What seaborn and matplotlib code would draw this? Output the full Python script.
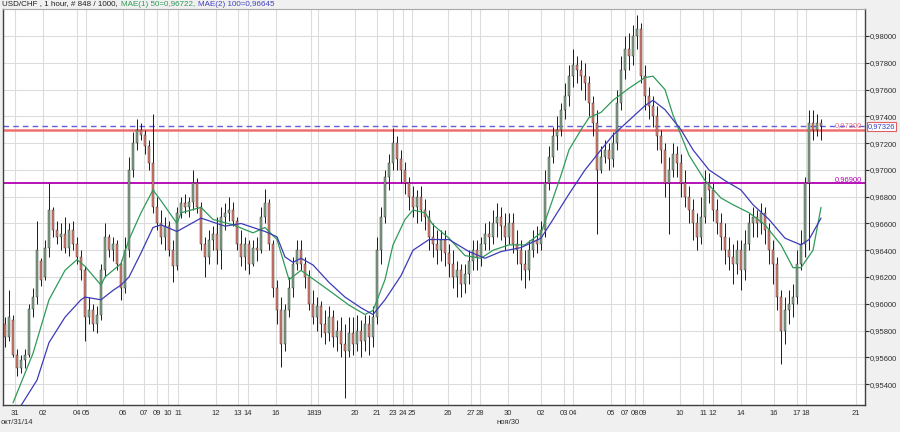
import numpy as np
import pandas as pd
import matplotlib
matplotlib.use("Agg")
import matplotlib.pyplot as plt
import matplotlib.transforms as mtransforms
from matplotlib.ticker import FuncFormatter
import seaborn as sns

# USD/CHF candles, one candle per 4 px of the original chart, prices in pips (1/10000)
opens = [
    9585, 9575, 9588, 9562, 9552, 9558, 9562, 9596, 9605, 9632,
    9620, 9642, 9670, 9655, 9650, 9652, 9642, 9655, 9645, 9635,
    9625, 9590, 9595, 9585, 9592, 9625, 9650, 9640, 9645, 9630,
    9612, 9640, 9700, 9720, 9730, 9726, 9718, 9705, 9672, 9660,
    9650, 9658, 9640, 9628, 9668, 9675, 9672, 9676, 9690, 9672,
    9645, 9635, 9648, 9652, 9640, 9665, 9668, 9670, 9662, 9645,
    9635, 9645, 9630, 9642, 9640, 9665, 9675, 9645, 9612, 9595,
    9570, 9595, 9612, 9630,
    9640, 9630, 9620, 9600, 9590, 9598, 9585, 9578, 9590, 9575,
    9580, 9570, 9565, 9578, 9570, 9580, 9572, 9585, 9575, 9590,
    9640, 9665, 9695, 9705, 9720, 9708, 9700, 9690, 9680, 9672,
    9680, 9670, 9665, 9650, 9645, 9640, 9648, 9638, 9630, 9620,
    9625, 9615, 9622, 9632, 9640, 9635, 9645, 9652, 9650, 9660,
    9665, 9658, 9650, 9660, 9645, 9640, 9630, 9625, 9640, 9648,
    9645, 9655, 9690, 9710, 9725, 9730, 9745, 9755, 9770, 9778,
    9775, 9770, 9765, 9750, 9735, 9700, 9710, 9715, 9708, 9720,
    9750, 9775, 9790, 9785, 9800, 9805, 9770, 9755, 9748, 9740,
    9725, 9715, 9690, 9700, 9712, 9705, 9690, 9680, 9670, 9660,
    9650, 9665, 9690, 9685, 9670, 9660, 9650, 9640, 9635, 9630,
    9640, 9625, 9645, 9660, 9665, 9660, 9668, 9655, 9640, 9630,
    9605, 9580, 9595, 9600, 9605, 9630, 9645, 9690, 9735, 9730,
    9735,
]
highs = [
    9590, 9610, 9592, 9566, 9562, 9566, 9600, 9612, 9662, 9634,
    9648, 9690, 9672, 9662, 9660, 9665, 9660, 9662, 9650, 9640,
    9628, 9605, 9600, 9598, 9630, 9660, 9652, 9650, 9648, 9633,
    9650, 9710, 9728, 9738, 9735, 9730, 9722, 9742, 9680, 9670,
    9665, 9662, 9648, 9672, 9680, 9682, 9680, 9700, 9694, 9676,
    9650, 9655, 9658, 9665, 9672, 9675, 9680, 9676, 9665, 9655,
    9650, 9648, 9648, 9650, 9672, 9686, 9678, 9648, 9618, 9605,
    9600, 9620, 9635, 9648,
    9648, 9635, 9625, 9610, 9605, 9602, 9595, 9598, 9595, 9588,
    9590, 9585, 9590, 9590, 9592, 9588, 9592, 9592, 9598, 9650,
    9672, 9700, 9712, 9731, 9725, 9715, 9706, 9695, 9688, 9685,
    9688, 9678, 9670, 9660, 9655, 9655, 9655, 9645, 9640, 9632,
    9630, 9630, 9640, 9648, 9648, 9650, 9660, 9662, 9670, 9675,
    9672, 9668, 9668, 9668, 9655, 9648, 9640, 9648, 9655, 9658,
    9662, 9700, 9718, 9732, 9740, 9750, 9765, 9778, 9790, 9785,
    9782, 9780, 9770, 9755, 9745, 9718, 9722, 9720, 9728, 9760,
    9785, 9800, 9802, 9808, 9816, 9810, 9778, 9762, 9755, 9748,
    9730, 9720, 9710, 9720, 9718, 9712, 9700, 9688, 9678, 9668,
    9680, 9700, 9698, 9690, 9678, 9668, 9660, 9650, 9645, 9648,
    9648, 9655, 9668, 9672, 9670, 9675, 9672, 9660, 9648, 9635,
    9610, 9605, 9610, 9615, 9640, 9655, 9695, 9745, 9745, 9742,
    9738,
]
lows = [
    9568, 9572, 9560, 9546, 9548, 9552, 9560, 9590, 9600, 9613,
    9618, 9635, 9650, 9645, 9640, 9638, 9636, 9640, 9630, 9618,
    9572, 9585, 9580, 9578, 9588, 9620, 9635, 9632, 9625, 9603,
    9608, 9635, 9695, 9715, 9722, 9712, 9700, 9668, 9655, 9645,
    9640, 9636, 9616, 9625, 9664, 9668, 9665, 9670, 9668, 9640,
    9620, 9630, 9640, 9630, 9626, 9655, 9662, 9658, 9640, 9628,
    9625, 9622, 9628, 9632, 9638, 9660, 9640, 9605, 9585, 9553,
    9565, 9590, 9605, 9625,
    9625, 9612, 9595, 9585, 9580, 9575, 9570, 9572, 9568, 9565,
    9560, 9530, 9560, 9562, 9565, 9560, 9565, 9562, 9568, 9585,
    9630, 9660, 9685, 9700, 9700, 9690, 9682, 9670, 9665, 9660,
    9662, 9655, 9640, 9635, 9630, 9632, 9628, 9620, 9612, 9605,
    9605, 9608, 9615, 9625, 9625, 9628, 9640, 9640, 9645, 9650,
    9648, 9640, 9645, 9638, 9630, 9618, 9612, 9618, 9635, 9638,
    9640, 9650, 9685, 9705, 9715, 9725, 9738, 9748, 9762, 9765,
    9760, 9752, 9740, 9725, 9652, 9698, 9705, 9700, 9702, 9715,
    9745, 9768, 9775, 9778, 9790, 9765, 9745, 9738, 9732, 9715,
    9705, 9680, 9652, 9695, 9695, 9680, 9672, 9660, 9648, 9640,
    9645, 9660, 9675, 9662, 9652, 9640, 9630, 9625, 9615, 9622,
    9610, 9618, 9640, 9650, 9650, 9652, 9645, 9630, 9615, 9595,
    9555, 9570, 9585, 9590, 9600, 9625, 9635, 9640, 9722, 9725,
    9722,
]
closes = [
    9575, 9590, 9562, 9552, 9558, 9562, 9596, 9605, 9640, 9618,
    9642, 9670, 9655, 9650, 9652, 9642, 9655, 9645, 9635, 9625,
    9590, 9595, 9585, 9592, 9625, 9650, 9640, 9645, 9630, 9612,
    9640, 9700, 9720, 9730, 9726, 9718, 9705, 9672, 9660, 9650,
    9658, 9640, 9628, 9668, 9675, 9672, 9676, 9690, 9672, 9645,
    9635, 9648, 9652, 9640, 9665, 9668, 9670, 9662, 9645, 9635,
    9645, 9630, 9642, 9640, 9665, 9675, 9645, 9612, 9595, 9570,
    9595, 9612, 9630, 9640,
    9630, 9620, 9600, 9590, 9598, 9585, 9578, 9590, 9575, 9580,
    9570, 9565, 9578, 9570, 9580, 9572, 9585, 9575, 9590, 9640,
    9665, 9695, 9705, 9720, 9708, 9700, 9690, 9680, 9672, 9680,
    9670, 9665, 9650, 9645, 9640, 9648, 9638, 9630, 9620, 9625,
    9615, 9622, 9632, 9640, 9635, 9645, 9652, 9650, 9660, 9665,
    9658, 9650, 9660, 9645, 9640, 9630, 9625, 9640, 9648, 9645,
    9655, 9690, 9710, 9725, 9730, 9745, 9755, 9770, 9778, 9775,
    9770, 9765, 9750, 9735, 9700, 9710, 9715, 9708, 9720, 9750,
    9775, 9790, 9785, 9800, 9805, 9770, 9755, 9748, 9740, 9725,
    9715, 9690, 9700, 9712, 9705, 9690, 9680, 9670, 9660, 9650,
    9665, 9690, 9685, 9670, 9660, 9650, 9640, 9635, 9630, 9640,
    9625, 9645, 9660, 9665, 9660, 9668, 9655, 9640, 9630, 9605,
    9580, 9595, 9600, 9605, 9630, 9645, 9690, 9735, 9730, 9735,
    9733,
]

# MAE(1) 50 and MAE(2) 100 at these candle numbers
ma50_bar = [2, 7, 11, 15, 18, 20, 24, 25, 29, 31, 34, 37, 39, 43, 44, 49, 52, 57, 62, 65,
            68, 71, 74, 81, 86, 90, 92, 95, 97, 100, 102, 105, 107, 111, 115, 119, 122, 126, 130, 134,
            136, 139, 141, 144, 146, 149, 152, 156, 160, 162, 165, 167, 171, 175, 179, 182, 186, 190, 194, 197,
            199, 202, 204]
ma50_val = [9526, 9563, 9603, 9625, 9633, 9628, 9614, 9620, 9630, 9648, 9668, 9685, 9677, 9660, 9668, 9672, 9663, 9659, 9653, 9657,
            9648, 9618, 9625, 9610, 9599, 9592, 9595, 9618, 9644, 9663, 9670, 9668, 9659, 9649, 9636, 9634, 9640, 9644, 9644, 9653,
            9670, 9696, 9715, 9730, 9739, 9743, 9752, 9761, 9769, 9770, 9760, 9741, 9711, 9692, 9679, 9674, 9668, 9659, 9644, 9627,
            9627, 9640, 9672]
ma100_bar = [4, 8, 11, 15, 19, 20, 24, 27, 29, 31, 34, 37, 39, 43, 46, 49, 52, 55, 59, 62,
             65, 68, 70, 72, 74, 77, 81, 85, 89, 92, 95, 99, 102, 106, 111, 116, 120, 124, 129, 134,
             137, 141, 145, 149, 152, 156, 160, 162, 165, 169, 172, 176, 180, 184, 187, 191, 195, 199, 201, 204]
ma100_val = [9524, 9543, 9571, 9590, 9603, 9605, 9603, 9610, 9614, 9620, 9638, 9657, 9659, 9654, 9659, 9664, 9661, 9658, 9660, 9657,
             9654, 9650, 9635, 9631, 9634, 9629, 9616, 9605, 9597, 9592, 9603, 9621, 9640, 9648, 9648, 9639, 9634, 9639, 9642, 9649,
             9663, 9682, 9700, 9715, 9726, 9737, 9748, 9752, 9745, 9730, 9715, 9700, 9692, 9685, 9674, 9663, 9649, 9644, 9648, 9664]

# date labels under the chart
day_labels = ["31", "02", "04", "05", "06", "07", "09", "10", "11", "12",
              "13", "14", "16", "18", "19", "20", "21", "23", "24", "25",
              "26", "27", "28", "30", "02", "03", "04", "05", "07", "08",
              "09", "10", "11", "12", "14", "16", "17", "18", "21"]
day_bars = [2.5, 9.5, 18, 20.25, 29.5, 34.75, 38, 40.75, 43.25, 52.75,
            58.25, 60.75, 67.75, 76.5, 78.25, 87.5, 93, 97, 99.5, 101.75,
            110.75, 116.5, 118.75, 125.75, 134, 139.75, 142, 151.5, 155, 157.5,
            159.5, 168.75, 174.5, 177, 184, 192.25, 198, 200.25, 212.75]

last_price = 0.97326
red_level = 0.97300
magenta_level = 0.96900

df = pd.DataFrame({"open": opens, "high": highs, "low": lows, "close": closes}) / 10000
df["bar"] = np.arange(len(df))

sns.set_style("white")
plt.rcParams["font.family"] = ["Liberation Sans", "DejaVu Sans"]

fig = plt.figure(figsize=(9, 4.32), dpi=100, facecolor="#f0f0f0")
ax = fig.add_axes([3 / 900, 27 / 432, 862 / 900, 396 / 432])
ax.set_facecolor("white")

# candles
up = df["close"] >= df["open"]
body_low = np.minimum(df["open"], df["close"])
body_h = np.maximum((df["close"] - df["open"]).abs(), 0.00003)
ax.vlines(df["bar"], df["low"], df["high"], color="#1a1a1a", lw=0.7, zorder=3)
ax.bar(df["bar"], body_h, bottom=body_low, width=0.5,
       color=np.where(up, "#86a88a", "#e2806e"), edgecolor="#2a2a2a",
       linewidth=0.3, zorder=4)

# moving averages
sns.lineplot(x=ma50_bar, y=np.array(ma50_val) / 10000, ax=ax, color="#2f9a58",
             lw=0.9, sort=False, estimator=None, zorder=5)
sns.lineplot(x=ma100_bar, y=np.array(ma100_val) / 10000, ax=ax, color="#3b3bb8",
             lw=0.9, sort=False, estimator=None, zorder=5)

# horizontal levels
ax.axhline(red_level, color="#f07070", lw=1.8, zorder=2)
ax.axhline(last_price, color="#6060d8", lw=1.0, ls=(0, (4, 3)), zorder=2)
ax.axhline(magenta_level, color="#b000b0", lw=1.3, zorder=2)

fmt = lambda v: f"{v:.5f}".replace(".", ",")
ax.text(0.997, red_level + 0.00002, fmt(red_level), transform=ax.get_yaxis_transform(),
        ha="right", va="bottom", fontsize=5.5, color="#e07080", zorder=6)
ax.text(0.997, magenta_level + 0.00004, fmt(magenta_level), transform=ax.get_yaxis_transform(),
        ha="right", va="bottom", fontsize=5.5, color="#b000b0", zorder=6)
ax.annotate(fmt(last_price), xy=(1.0, last_price), xycoords=ax.get_yaxis_transform(),
            xytext=(2, 0), textcoords="offset points", ha="left", va="center",
            fontsize=5.5, color="#3040c0",
            bbox=dict(boxstyle="square,pad=0.12", facecolor="white", edgecolor="#e06060", lw=0.8),
            annotation_clip=False, zorder=7)

# axes
ax.set_xlim(-0.5, 215)
ax.set_ylim(0.95244, 0.98202)
ax.yaxis.tick_right()
ax.set_yticks(np.arange(0.954, 0.9801, 0.002))
ax.yaxis.set_major_formatter(FuncFormatter(lambda v, p: fmt(v)))
ax.set_xticks(day_bars)
ax.set_xticklabels(day_labels)
ax.tick_params(axis="y", direction="out", length=3, width=0.8, labelsize=5.5, pad=0.5,
               colors="#303030")
ax.tick_params(axis="x", direction="out", length=2, width=0.6, labelsize=5.5, pad=1.5,
               colors="#303030")
ax.grid(True, color="#dcdcdc", lw=0.8)
ax.set_axisbelow(True)
for side in ["left", "right", "bottom"]:
    ax.spines[side].set_color("#404040")
    ax.spines[side].set_linewidth(1.0)
ax.spines["top"].set_color("#a8a8a8")

trans = mtransforms.blended_transform_factory(ax.transData, ax.transAxes)
ax.text(125.75, -0.043, "ноя/30", transform=trans, ha="center", va="center",
        fontsize=5.5, color="#303030")
fig.text(1 / 900, 1 - 422 / 432, "окт/31/14", ha="left", va="center",
         fontsize=5.5, color="#303030")

# header, pieces placed one after another
renderer = fig.canvas.get_renderer()
x_px = 2
for piece, col in [("USD/CHF , 1 hour, # 848 / 1000,", "#202020"),
                   ("MAE(1) 50=0,96722,", "#2f9a58"),
                   ("MAE(2) 100=0,96645", "#4040c0")]:
    t = fig.text(x_px / 900, 1 - 4 / 432, piece, ha="left", va="center",
                 fontsize=5.8, color=col)
    x_px = t.get_window_extent(renderer).x1 + 3

fig.savefig("out.png", dpi=100, facecolor=fig.get_facecolor())
